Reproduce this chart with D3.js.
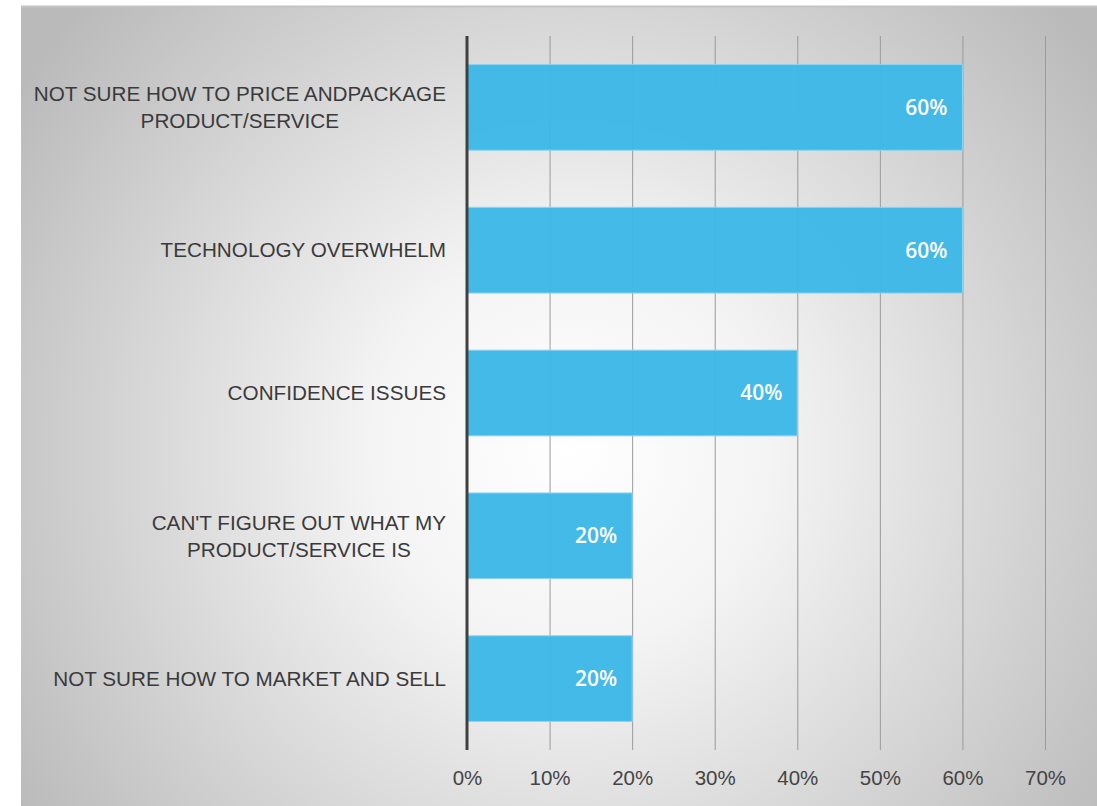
<!DOCTYPE html>
<html>
<head>
<meta charset="utf-8">
<script src="https://cdn.jsdelivr.net/npm/d3@7"></script>
<style>
  html, body { margin: 0; padding: 0; background: #ffffff; }
  svg { display: block; }
</style>
</head>
<body>
<svg id="chart" width="1097" height="806"></svg>
<script>
const categories = [
  ["NOT SURE HOW TO PRICE ANDPACKAGE", "PRODUCT/SERVICE"],
  ["TECHNOLOGY OVERWHELM"],
  ["CONFIDENCE ISSUES"],
  ["CAN'T FIGURE OUT WHAT MY", "PRODUCT/SERVICE IS"],
  ["NOT SURE HOW TO MARKET AND SELL"]
];
const values = [0.60, 0.60, 0.40, 0.20, 0.20];
const tickValues = [0, 0.1, 0.2, 0.3, 0.4, 0.5, 0.6, 0.7];

const W = 1097, H = 806;
const svg = d3.select("#chart");
const defs = svg.append("defs");
const grad = defs.append("radialGradient")
  .attr("id", "bg").attr("gradientUnits", "userSpaceOnUse")
  .attr("cx", 570).attr("cy", 450).attr("r", 660);
grad.append("stop").attr("offset", "0%").attr("stop-color", "#ffffff");
grad.append("stop").attr("offset", "30%").attr("stop-color", "#f4f4f4");
grad.append("stop").attr("offset", "100%").attr("stop-color", "#bababa");

svg.append("rect").attr("x", 21).attr("y", 6).attr("width", W - 21).attr("height", H - 6)
  .attr("fill", "url(#bg)");
svg.append("line").attr("x1", 21).attr("x2", W).attr("y1", 6.5).attr("y2", 6.5)
  .attr("stroke", "#c4c4c4").attr("stroke-width", 2);

const x = d3.scaleLinear().domain([0, 0.7]).range([467, 1045]);
const idx = d3.range(categories.length);
const y = d3.scaleBand().domain(idx).range([36, 750]).paddingInner(0.4).paddingOuter(0.2);

// gridlines
svg.append("g").selectAll("line").data(tickValues.slice(1)).join("line")
  .attr("x1", d => x(d) + 0.5).attr("x2", d => x(d) + 0.5)
  .attr("y1", 36).attr("y2", 750)
  .attr("stroke", "#9a9a9a").attr("stroke-width", 1);

// bars
svg.append("g").selectAll("rect").data(idx).join("rect")
  .attr("x", x(0)).attr("y", i => y(i))
  .attr("width", i => x(values[i]) - x(0)).attr("height", y.bandwidth())
  .attr("fill", "#3db8e6").attr("fill-opacity", 0.97).attr("stroke", "#8fd3ee").attr("stroke-width", 1);

// bar value labels
svg.append("g").selectAll("text").data(idx).join("text")
  .attr("x", i => x(values[i]) - 15).attr("y", i => y(i) + y.bandwidth() / 2)
  .attr("dy", "0.35em").attr("text-anchor", "end")
  .attr("font-family", "'Open Sans', 'Liberation Sans', Arial, sans-serif")
  .attr("font-size", 21).attr("font-weight", 600).attr("fill", "#ffffff")
  .text(i => d3.format(".0%")(values[i]));

// axis line
svg.append("line").attr("x1", x(0)).attr("x2", x(0)).attr("y1", 36).attr("y2", 750)
  .attr("stroke", "#404040").attr("stroke-width", 3);

// x axis labels
const xAxis = d3.axisBottom(x).tickValues(tickValues).tickFormat(d3.format(".0%")).tickSize(0).tickPadding(0);
const gx = svg.append("g").attr("transform", "translate(0,778)").call(xAxis);
gx.select(".domain").remove();
gx.selectAll("text").attr("dy", "0.35em").attr("y", 0)
  .attr("font-family", "'Liberation Sans', Arial, sans-serif")
  .attr("font-size", 20.5).attr("fill", "#444444");

// category labels
const lab = svg.append("g").selectAll("text").data(idx).join("text")
  .attr("text-anchor", "middle")
  .attr("font-family", "'Liberation Sans', Arial, sans-serif")
  .attr("font-size", 20.7).attr("fill", "#3a3a3a");
lab.each(function(i) {
  const lines = categories[i];
  const cy = y(i) + y.bandwidth() / 2;
  const lh = 27;
  const t = d3.select(this);
  lines.forEach((l, k) => {
    t.append("tspan").text(l)
      .attr("y", cy + (k - (lines.length - 1) / 2) * lh)
      .attr("dy", "0.35em");
  });
});
lab.each(function(i) {
  const t = d3.select(this);
  const tsp = t.selectAll("tspan").nodes();
  const maxW = d3.max(tsp, n => n.getComputedTextLength());
  const cx = 446 - maxW / 2;
  t.selectAll("tspan").attr("x", cx);
});
</script>
</body>
</html>
